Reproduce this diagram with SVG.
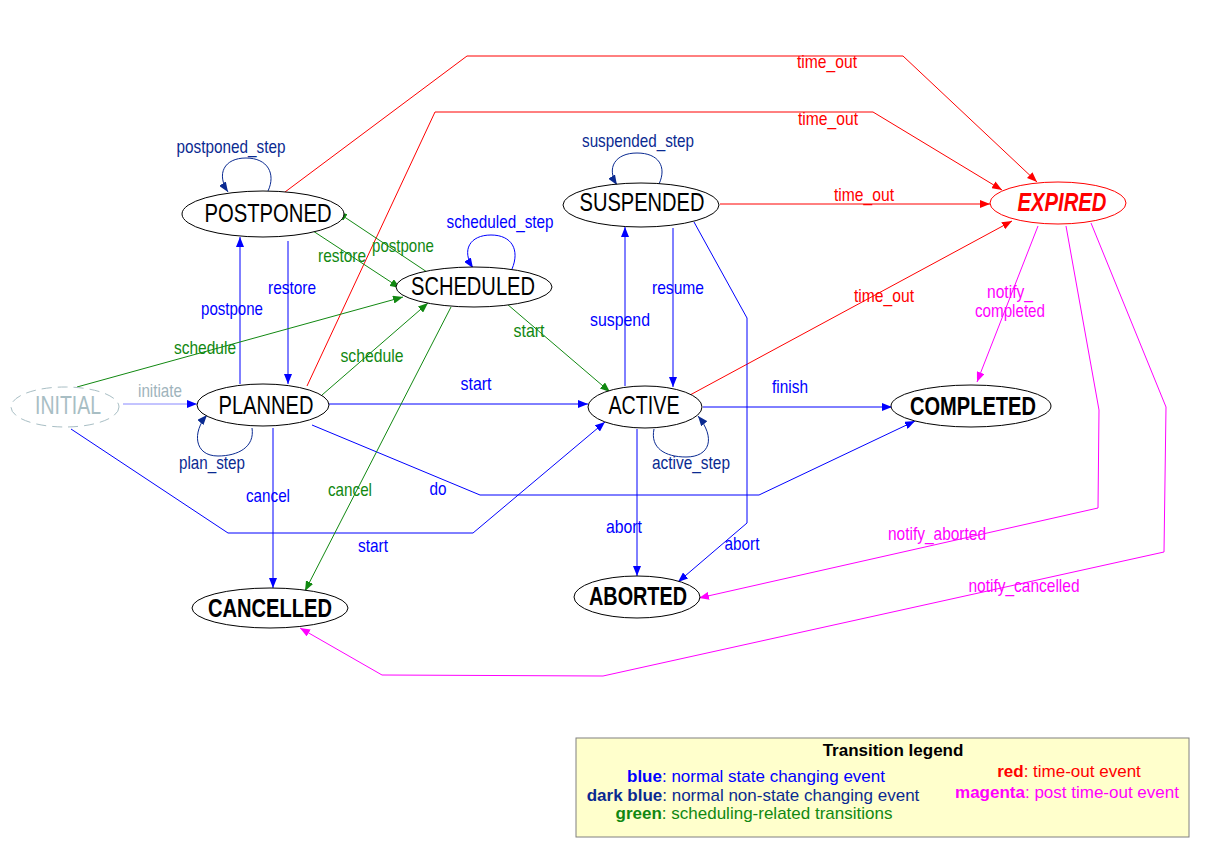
<svg xmlns="http://www.w3.org/2000/svg" width="1212" height="862" viewBox="0 0 1212 862">
<style>
text{font-family:"Liberation Sans",Arial,sans-serif;text-anchor:middle}
.node ellipse{fill:#fff;stroke:#000;stroke-width:1}
.nt{font-size:26px;fill:#000}
.nb{font-size:26px;font-weight:bold;fill:#000}
.lb{font-size:19px}
.e{fill:none;stroke-width:1}
.blue{stroke:#0000ff}.fblue{fill:#0000ff}
.dblue{stroke:#0a2a91}.fdblue{fill:#0a2a91}
.green{stroke:#118811}.fgreen{fill:#118811}
.red{stroke:#ff0000}.fred{fill:#ff0000}
.mag{stroke:#ff00ff}.fmag{fill:#ff00ff}
.gray{stroke:#8888ff}.fgray{fill:#9fb4bc}
.lg{font-size:17px}
</style>
<defs>
<marker id="ab" viewBox="0 0 10 8" refX="10" refY="4" markerWidth="10" markerHeight="8" markerUnits="userSpaceOnUse" orient="auto"><path d="M0,0L10,4L0,8z" fill="#0000ff"/></marker>
<marker id="ad" viewBox="0 0 10 8" refX="10" refY="4" markerWidth="10" markerHeight="8" markerUnits="userSpaceOnUse" orient="auto"><path d="M0,0L10,4L0,8z" fill="#0a2a91"/></marker>
<marker id="ag" viewBox="0 0 10 8" refX="10" refY="4" markerWidth="10" markerHeight="8" markerUnits="userSpaceOnUse" orient="auto"><path d="M0,0L10,4L0,8z" fill="#118811"/></marker>
<marker id="ar" viewBox="0 0 10 8" refX="10" refY="4" markerWidth="10" markerHeight="8" markerUnits="userSpaceOnUse" orient="auto"><path d="M0,0L10,4L0,8z" fill="#ff0000"/></marker>
<marker id="am" viewBox="0 0 10 8" refX="10" refY="4" markerWidth="10" markerHeight="8" markerUnits="userSpaceOnUse" orient="auto"><path d="M0,0L10,4L0,8z" fill="#ff00ff"/></marker>
</defs>
<rect width="1212" height="862" fill="#fff"/>

<g id="connectors">
<path class="e red" marker-end="url(#ar)" d="M285,192L467,56L903,56L1037,182"/>
<path class="e red" marker-end="url(#ar)" d="M307,386L435,112L873,112L1002,190"/>
<path class="e red" marker-end="url(#ar)" d="M720,204L990,204"/>
<path class="e red" marker-end="url(#ar)" d="M690,395L1012,221"/>
<path class="e mag" marker-end="url(#am)" d="M1038,226L977,382"/>
<path class="e mag" marker-end="url(#am)" d="M1066,226L1099,410L1098,508L699,598"/>
<path class="e mag" marker-end="url(#am)" d="M1091,223L1166,407L1164,552L603,676L382,675L300,628"/>
<path class="e gray" marker-end="url(#ab)" d="M123,404L197,404"/>
<path class="e blue" marker-end="url(#ab)" d="M240,384L240,237"/>
<path class="e blue" marker-end="url(#ab)" d="M288,241L288,384"/>
<path class="e blue" marker-end="url(#ab)" d="M329,404L588,404"/>
<path class="e blue" marker-end="url(#ab)" d="M312,425L480,495L759,495L915,421"/>
<path class="e blue" marker-end="url(#ab)" d="M71,429L228,533L473,533L605,422"/>
<path class="e blue" marker-end="url(#ab)" d="M273,428L273,588"/>
<path class="e blue" marker-end="url(#ab)" d="M625,386L625,227"/>
<path class="e blue" marker-end="url(#ab)" d="M673,228L673,387"/>
<path class="e blue" marker-end="url(#ab)" d="M694,222L747,318L747,523L678,582"/>
<path class="e blue" marker-end="url(#ab)" d="M637,429L637,576"/>
<path class="e blue" marker-end="url(#ab)" d="M703,407L892,407"/>
<path class="e blue" marker-end="url(#ab)" d="M512,269C520,250 512,235 491,235C470,235 461,250 473,268"/>
<path class="e dblue" marker-end="url(#ad)" d="M268,191C276,174 268,158 246,158C224,158 216,174 228,192"/>
<path class="e dblue" marker-end="url(#ad)" d="M659,184C667,167 659,153 637,153C615,153 606,168 617,185"/>
<path class="e dblue" marker-end="url(#ad)" d="M252,428C255,447 238,456 218,456C194,456 192,432 207,415"/>
<path class="e dblue" marker-end="url(#ad)" d="M654,429C650,448 665,457 686,457C710,457 716,438 698,416"/>
<path class="e green" marker-end="url(#ag)" d="M77,387L403,297"/>
<path class="e green" marker-end="url(#ag)" d="M322,395L428,303"/>
<path class="e green" marker-end="url(#ag)" d="M451,307L305,591"/>
<path class="e green" marker-end="url(#ag)" d="M427,272L337,212"/>
<path class="e green" marker-end="url(#ag)" d="M310,229L400,288"/>
<path class="e green" marker-end="url(#ag)" d="M507,304L610,392"/>
</g>

<g id="labels">
<text class="lb fdblue" x="231" y="153" textLength="109" lengthAdjust="spacingAndGlyphs">postponed_step</text>
<text class="lb fblue" x="232" y="315" textLength="62" lengthAdjust="spacingAndGlyphs">postpone</text>
<text class="lb fblue" x="292" y="294" textLength="48" lengthAdjust="spacingAndGlyphs">restore</text>
<text class="lb fgreen" x="342" y="262" textLength="48" lengthAdjust="spacingAndGlyphs">restore</text>
<text class="lb fgreen" x="403" y="252" textLength="62" lengthAdjust="spacingAndGlyphs">postpone</text>
<text class="lb fblue" x="500" y="228" textLength="107" lengthAdjust="spacingAndGlyphs">scheduled_step</text>
<text class="lb fgreen" x="372" y="362" textLength="63" lengthAdjust="spacingAndGlyphs">schedule</text>
<text class="lb fgreen" x="529" y="337" textLength="31" lengthAdjust="spacingAndGlyphs">start</text>
<text class="lb fdblue" x="638" y="147" textLength="112" lengthAdjust="spacingAndGlyphs">suspended_step</text>
<text class="lb fblue" x="678" y="294" textLength="52" lengthAdjust="spacingAndGlyphs">resume</text>
<text class="lb fblue" x="620" y="326" textLength="60" lengthAdjust="spacingAndGlyphs">suspend</text>
<text class="lb fgreen" x="205" y="354" textLength="62" lengthAdjust="spacingAndGlyphs">schedule</text>
<text class="lb fgray" x="160" y="397" textLength="44" lengthAdjust="spacingAndGlyphs">initiate</text>
<text class="lb fdblue" x="212" y="469" textLength="66" lengthAdjust="spacingAndGlyphs">plan_step</text>
<text class="lb fblue" x="268" y="502" textLength="44" lengthAdjust="spacingAndGlyphs">cancel</text>
<text class="lb fblue" x="476" y="390" textLength="31" lengthAdjust="spacingAndGlyphs">start</text>
<text class="lb fblue" x="790" y="393" textLength="36" lengthAdjust="spacingAndGlyphs">finish</text>
<text class="lb fdblue" x="691" y="469" textLength="78" lengthAdjust="spacingAndGlyphs">active_step</text>
<text class="lb fgreen" x="350" y="496" textLength="44" lengthAdjust="spacingAndGlyphs">cancel</text>
<text class="lb fblue" x="438" y="495" textLength="17" lengthAdjust="spacingAndGlyphs">do</text>
<text class="lb fblue" x="373" y="552" textLength="30" lengthAdjust="spacingAndGlyphs">start</text>
<text class="lb fblue" x="624" y="533" textLength="36" lengthAdjust="spacingAndGlyphs">abort</text>
<text class="lb fblue" x="742" y="550" textLength="35" lengthAdjust="spacingAndGlyphs">abort</text>
<text class="lb fred" x="827" y="68" textLength="60" lengthAdjust="spacingAndGlyphs">time_out</text>
<text class="lb fred" x="828" y="125" textLength="60" lengthAdjust="spacingAndGlyphs">time_out</text>
<text class="lb fred" x="864" y="201" textLength="60" lengthAdjust="spacingAndGlyphs">time_out</text>
<text class="lb fred" x="884" y="302" textLength="60" lengthAdjust="spacingAndGlyphs">time_out</text>
<text class="lb fmag" x="1010" y="298" textLength="46" lengthAdjust="spacingAndGlyphs">notify_</text>
<text class="lb fmag" x="1010" y="317" textLength="70" lengthAdjust="spacingAndGlyphs">completed</text>
<text class="lb fmag" x="937" y="540" textLength="98" lengthAdjust="spacingAndGlyphs">notify_aborted</text>
<text class="lb fmag" x="1024" y="592" textLength="111" lengthAdjust="spacingAndGlyphs">notify_cancelled</text>
</g>

<g id="INITIAL" class="node"><ellipse cx="65" cy="407" rx="54" ry="20" style="stroke:#a8bec4;stroke-dasharray:10,6"/><text class="nt" x="68" y="414" textLength="66" lengthAdjust="spacingAndGlyphs" style="fill:#a8bec4">INITIAL</text></g>
<g id="PLANNED" class="node"><ellipse cx="263" cy="405" rx="66" ry="21"/><text class="nt" x="266" y="414" textLength="95" lengthAdjust="spacingAndGlyphs">PLANNED</text></g>
<g id="POSTPONED" class="node"><ellipse cx="263" cy="214" rx="81" ry="23"/><text class="nt" x="268" y="222" textLength="127" lengthAdjust="spacingAndGlyphs">POSTPONED</text></g>
<g id="SCHEDULED" class="node"><ellipse cx="474" cy="287" rx="78" ry="20"/><text class="nt" x="473" y="295" textLength="124" lengthAdjust="spacingAndGlyphs">SCHEDULED</text></g>
<g id="SUSPENDED" class="node"><ellipse cx="641" cy="205" rx="78" ry="22"/><text class="nt" x="642" y="211" textLength="125" lengthAdjust="spacingAndGlyphs">SUSPENDED</text></g>
<g id="ACTIVE" class="node"><ellipse cx="645" cy="407" rx="57" ry="21"/><text class="nt" x="644" y="414" textLength="71" lengthAdjust="spacingAndGlyphs">ACTIVE</text></g>
<g id="EXPIRED" class="node"><ellipse cx="1058" cy="203" rx="68" ry="21" style="stroke:#ff0000"/><text class="nb" x="1062" y="211" textLength="89" lengthAdjust="spacingAndGlyphs" style="fill:#ff0000;font-style:italic">EXPIRED</text></g>
<g id="COMPLETED" class="node"><ellipse cx="971" cy="406" rx="80" ry="21"/><text class="nb" x="973" y="415" textLength="126" lengthAdjust="spacingAndGlyphs">COMPLETED</text></g>
<g id="CANCELLED" class="node"><ellipse cx="270" cy="608" rx="78" ry="20"/><text class="nb" x="270" y="617" textLength="124" lengthAdjust="spacingAndGlyphs">CANCELLED</text></g>
<g id="ABORTED" class="node"><ellipse cx="637" cy="597" rx="63" ry="21"/><text class="nb" x="638" y="605" textLength="98" lengthAdjust="spacingAndGlyphs">ABORTED</text></g>

<g id="legend">
<rect x="576" y="738" width="613" height="99" fill="#ffffcc" stroke="#808080"/>
<text class="lg" x="893" y="756" style="font-weight:bold">Transition legend</text>
<text class="lg" x="756" y="782" fill="#0000ff"><tspan font-weight="bold">blue</tspan>: normal state changing event</text>
<text class="lg" x="753" y="801" fill="#0a2a91"><tspan font-weight="bold">dark blue</tspan>: normal non-state changing event</text>
<text class="lg" x="754" y="819" fill="#118811"><tspan font-weight="bold">green</tspan>: scheduling-related transitions</text>
<text class="lg" x="1069" y="777" fill="#ff0000"><tspan font-weight="bold">red</tspan>: time-out event</text>
<text class="lg" x="1067" y="798" fill="#ff00ff"><tspan font-weight="bold">magenta</tspan>: post time-out event</text>
</g>
</svg>
